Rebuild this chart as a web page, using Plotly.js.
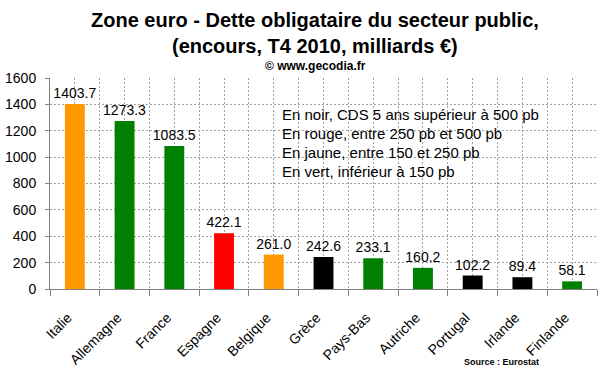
<!DOCTYPE html>
<html>
<head>
<meta charset="utf-8">
<script src="https://cdn.plot.ly/plotly-3.0.1.min.js"></script>
<style>html,body{margin:0;padding:0;background:#fff;}#chart{width:600px;height:372px;}</style>
</head>
<body>
<div id="chart"></div>
<script>
const categories = ['Italie','Allemagne','France','Espagne','Belgique','Grèce','Pays-Bas','Autriche','Portugal','Irlande','Finlande'];
const values = [1403.7, 1273.3, 1083.5, 422.1, 261.0, 242.6, 233.1, 160.2, 102.2, 89.4, 58.1];
const cdsClass = ['jaune','vert','vert','rouge','jaune','noir','vert','vert','noir','noir','vert'];
const yTicks = [0, 200, 400, 600, 800, 1000, 1200, 1400, 1600];
const noteLines = [
  'En noir, CDS 5 ans supérieur à 500 pb',
  'En rouge, entre 250 pb et 500 pb',
  'En jaune, entre 150 et 250 pb',
  'En vert, inférieur à 150 pb'
];
const titleLines = ['Zone euro - Dette obligataire du secteur public,', '(encours, T4 2010, milliards €)'];
const subtitle = '© www.gecodia.fr';
const sourceText = 'Source : Eurostat';

const classColors = {noir:'#000000', rouge:'#FF0000', jaune:'#FF9900', vert:'#008000'};
const FONT = '"Liberation Sans", Arial, sans-serif';
const idx = categories.map((c, i) => i);
const bounds = categories.map((c, i) => i - 0.5).concat([categories.length - 0.5]);

const trace = {
  type: 'bar',
  x: idx,
  y: values,
  width: 0.4,
  marker: {color: cdsClass.map(c => classColors[c]), line: {width: 0}},
  text: values.map(v => v.toFixed(1)),
  textposition: 'outside',
  constraintext: 'none',
  cliponaxis: false,
  textfont: {family: FONT, size: 14, color: '#000'},
  hoverinfo: 'none'
};

const annotations = noteLines.map((t, i) => ({
  text: t, xref: 'paper', yref: 'paper', x: 0.42, y: 0.825 - i * 0.089,
  xanchor: 'left', yanchor: 'middle', showarrow: false,
  font: {family: FONT, size: 15, color: '#000'}
}));
titleLines.forEach((t, i) => annotations.push({
  text: '<b>' + t + '</b>', xref: 'paper', yref: 'paper', x: 0.484, y: 1.273 - i * 0.12,
  xanchor: 'center', yanchor: 'middle', showarrow: false,
  font: {family: FONT, size: 20, color: '#000'}
}));
annotations.push({
  text: '<b>' + subtitle + '</b>', xref: 'paper', yref: 'paper', x: 0.486, y: 1.055,
  xanchor: 'center', yanchor: 'middle', showarrow: false,
  font: {family: FONT, size: 12, color: '#000'}
});
annotations.push({
  text: '<b>' + sourceText + '</b>', xref: 'paper', yref: 'paper', x: 0.753, y: -0.345,
  xanchor: 'left', yanchor: 'middle', showarrow: false,
  font: {family: FONT, size: 9, color: '#000'}
});

const layout = {
  width: 600, height: 372,
  margin: {l: 50, r: 3, t: 78, b: 83},
  paper_bgcolor: '#fff', plot_bgcolor: '#fff',
  showlegend: false,
  font: {family: FONT, size: 14, color: '#000'},
  xaxis: {
    type: 'linear',
    range: [-0.5, categories.length - 0.5],
    tickmode: 'array', tickvals: idx, ticktext: categories,
    tickangle: -45, ticks: '', ticklabelstandoff: 14, ticklabelshift: -7,
    tickfont: {family: FONT, size: 14, color: '#000'},
    showgrid: true, gridcolor: '#A0A0A0', griddash: '2px,2px', gridwidth: 1,
    minor: {tickmode: 'array', tickvals: bounds, ticks: 'outside', ticklen: 6, tickcolor: '#808080',
            showgrid: true, gridcolor: '#A0A0A0', griddash: '2px,2px', gridwidth: 1},
    showline: true, linecolor: '#808080', linewidth: 1,
    zeroline: false, fixedrange: true
  },
  yaxis: {
    range: [0, 1600], tickmode: 'array', tickvals: yTicks, ticktext: yTicks.map(String),
    ticks: 'outside', ticklen: 4, tickcolor: '#808080', ticklabelstandoff: 6,
    tickfont: {family: FONT, size: 14, color: '#000'},
    showgrid: true, gridcolor: '#A0A0A0', griddash: '2px,2px', gridwidth: 1,
    showline: true, linecolor: '#808080', linewidth: 1,
    zeroline: false, fixedrange: true
  },
  annotations: annotations
};

Plotly.newPlot('chart', [trace], layout, {staticPlot: true, displayModeBar: false});
</script>
</body>
</html>
